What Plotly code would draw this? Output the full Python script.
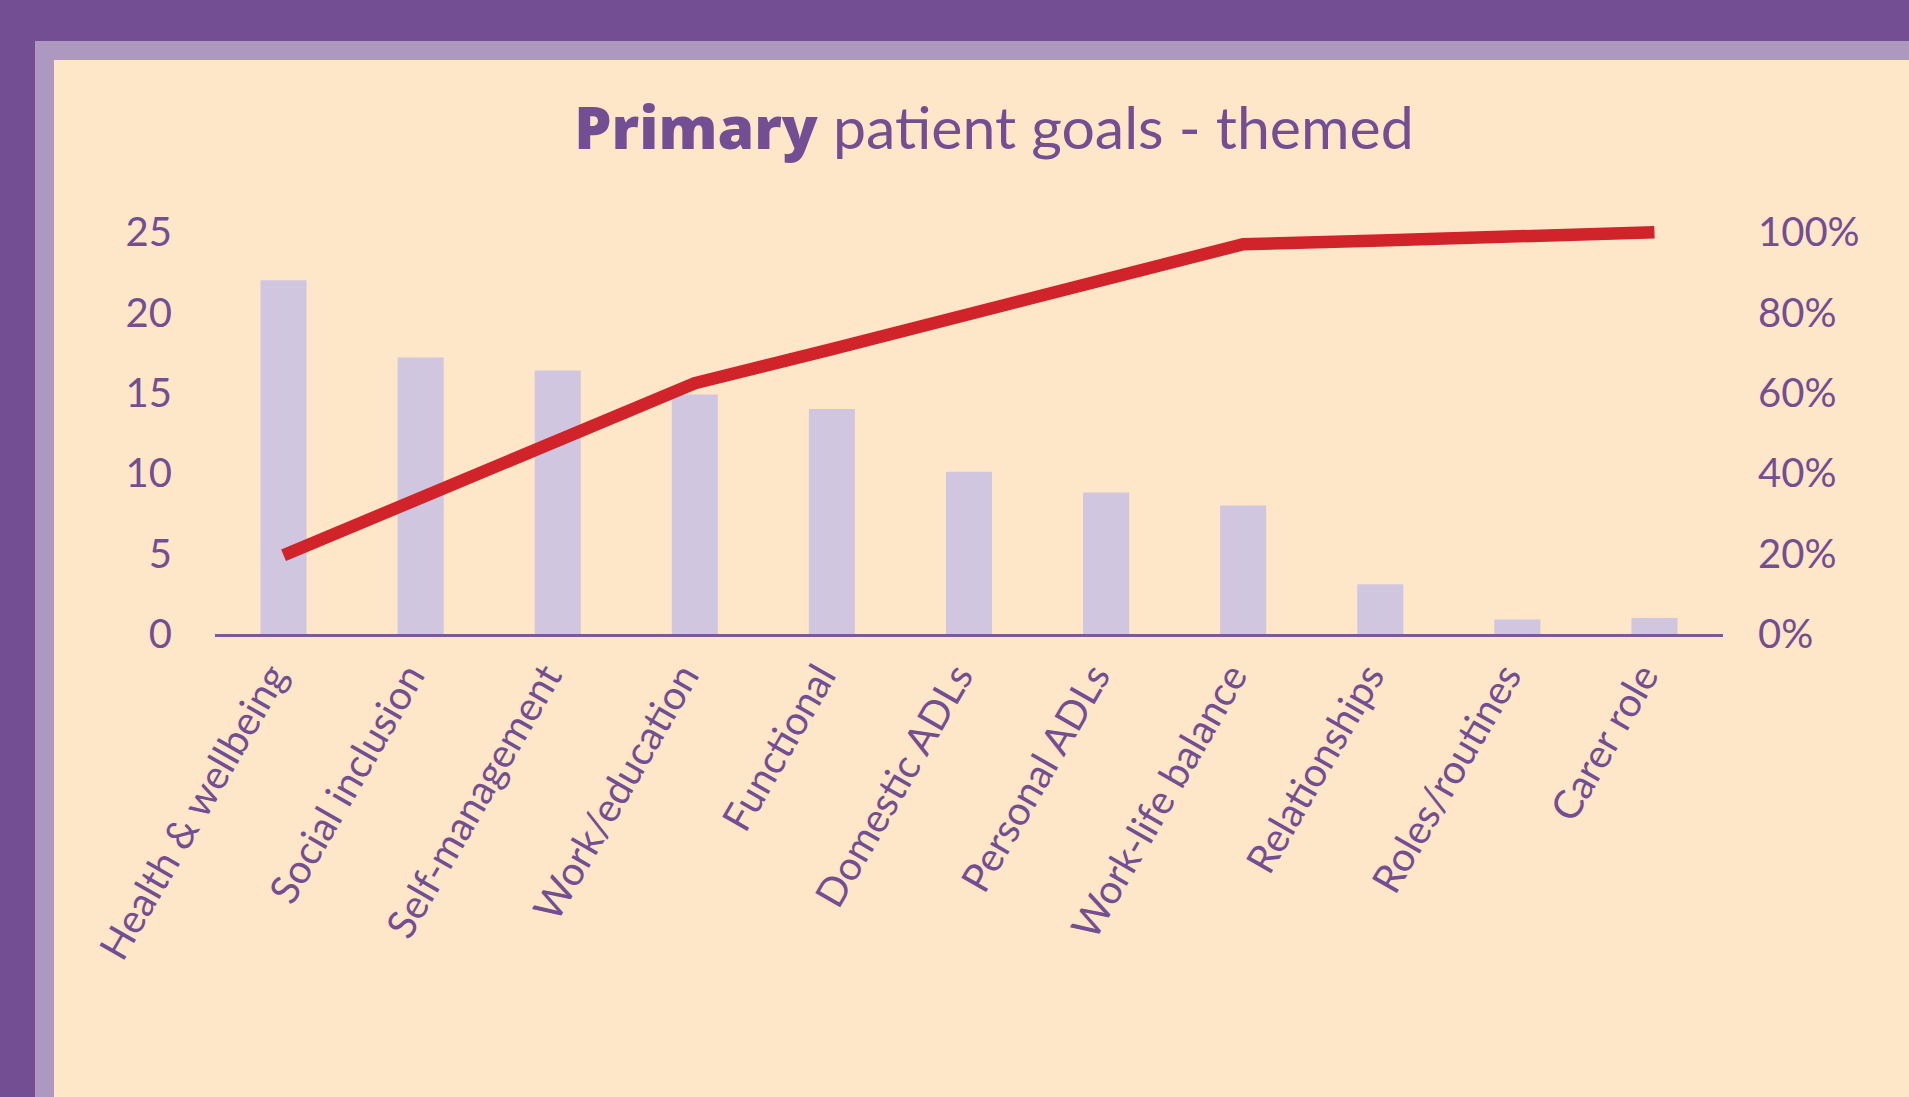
import plotly.graph_objects as go

# ---- data ----
categories = ["Health & wellbeing", "Social inclusion", "Self-management", "Work/education",
              "Functional", "Domestic ADLs", "Personal ADLs", "Work-life balance",
              "Relationships", "Roles/routines", "Carer role"]
counts = [22, 17.2, 16.4, 14.9, 14.0, 10.1, 8.8, 8.0, 3.1, 0.9, 1.0]
cumulative_pct = [19.6, 33.8, 48.1, 62.4, 70.9, 79.6, 88.3, 97.0, 97.9, 98.9, 100]
left_ticks = [0, 5, 10, 15, 20, 25]
right_ticks = [0, 20, 40, 60, 80, 100]
right_tick_labels = ["0%", "20%", "40%", "60%", "80%", "100%"]

# ---- style ----
PURPLE = "#744E93"
LIGHT_PURPLE = "#AD98C0"
CREAM = "#FEE7C8"
BAR = "#D0C6DF"
RED = "#D1232A"
TEXT = "#744E93"
FONT = "Lato"

W, H = 1909, 1097
ML, MR, MT, MB = 215, 186, 200, 463
PW, PH = W - ML - MR, H - MT - MB


def px_x(px):
    return (px - ML) / PW


def px_y(py):
    return (H - MB - py) / PH


fig = go.Figure()
fig.add_trace(go.Bar(x=categories, y=counts, marker=dict(color=BAR, line=dict(width=0)),
                     yaxis="y", showlegend=False, hoverinfo="skip"))
fig.add_trace(go.Scatter(x=categories, y=cumulative_pct, mode="lines",
                         line=dict(color=RED, width=12.5), yaxis="y2",
                         showlegend=False, hoverinfo="skip"))

shapes = [
    dict(type="rect", xref="paper", yref="paper", layer="below",
         x0=px_x(35), x1=px_x(W + 10), y0=px_y(41), y1=px_y(H + 10),
         fillcolor=LIGHT_PURPLE, line=dict(width=0)),
    dict(type="rect", xref="paper", yref="paper", layer="below",
         x0=px_x(54), x1=px_x(W + 10), y0=px_y(60), y1=px_y(H + 10),
         fillcolor=CREAM, line=dict(width=0)),
]

title_text = ("<span style=\"font-family:'Open Sans';font-weight:800\">Primary</span>"
              " patient goals - themed")

fig.update_layout(
    width=W, height=H,
    margin=dict(l=ML, r=MR, t=MT, b=MB, pad=0),
    paper_bgcolor=PURPLE,
    plot_bgcolor="rgba(0,0,0,0)",
    shapes=shapes,
    bargap=0.664,
    font=dict(family=FONT, color=TEXT),
    title=dict(text=title_text,
               font=dict(family=FONT, size=59, color=TEXT),
               x=994 / W, xref="container", xanchor="center",
               y=1 - 128 / H, yref="container", yanchor="middle"),
    xaxis=dict(showline=True, linecolor="#7A5A9B", linewidth=3, ticks="",
               tickangle=-60, ticklabelshift=-12,
               tickfont=dict(family=FONT, size=40, color=TEXT),
               showgrid=False, zeroline=False, fixedrange=True),
    yaxis=dict(range=[0, 27], tickvals=left_ticks, showgrid=False, zeroline=False,
               showline=False, ticks="", ticklabelstandoff=42,
               tickfont=dict(family=FONT, size=40, color=TEXT)),
    yaxis2=dict(range=[0, 108], tickmode="array", tickvals=right_ticks,
                ticktext=right_tick_labels, overlaying="y",
                side="right", showgrid=False, zeroline=False, showline=False, ticks="",
                ticklabelstandoff=34, tickfont=dict(family=FONT, size=40, color=TEXT)),
)

fig.write_html("out.html", include_plotlyjs=True, full_html=True,
               config={"displayModeBar": False},
               post_script="document.body.style.margin='0';document.body.style.overflow='hidden';")
